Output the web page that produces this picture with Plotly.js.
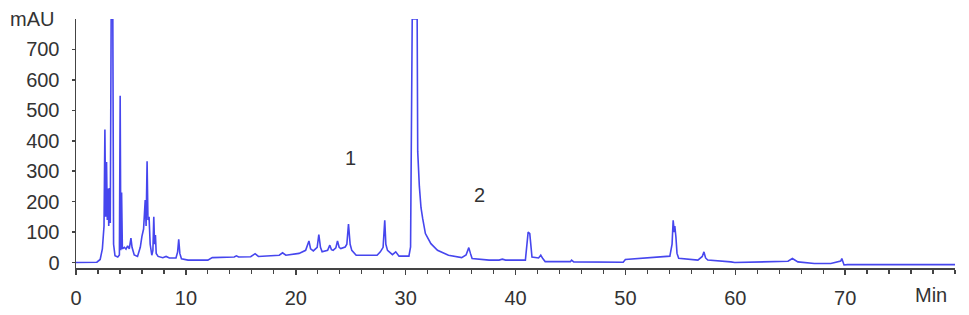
<!DOCTYPE html>
<html>
<head>
<meta charset="utf-8">
<script src="https://cdn.plot.ly/plotly-3.0.1.min.js"></script>
<style>
html,body{margin:0;padding:0;background:#fff;}
#chart{width:969px;height:315px;}
</style>
</head>
<body>
<div id="chart"></div>
<script>
// Retention time (min)
var retentionTime = [
  0, 1.0, 1.9, 2.2, 2.4, 2.55, 2.63, 2.7, 2.78, 2.85, 2.92, 2.98, 3.05, 3.12, 3.2, 3.35, 3.42, 3.55,
  3.8, 3.95, 4.02, 4.08, 4.15, 4.22, 4.4, 4.55, 4.7, 4.85, 5.0, 5.1, 5.3, 5.6, 5.85, 6.0, 6.15, 6.3,
  6.38, 6.47, 6.55, 6.65, 6.75, 6.9, 7.0, 7.08, 7.15, 7.23, 7.3, 7.47, 7.9, 8.2, 8.5, 9.1, 9.25, 9.35,
  9.45, 9.6, 10.2, 12.0, 12.4, 14.4, 14.6, 14.8, 15.9, 16.3, 16.6, 18.5, 18.8, 19.1, 20.3, 20.9, 21.2,
  21.35, 21.6, 21.95, 22.1, 22.25, 22.4, 22.9, 23.1, 23.25, 23.4, 23.65, 23.8, 23.95, 24.1, 24.5, 24.65,
  24.8, 24.95, 25.1, 25.5, 27.4, 27.7, 27.95, 28.1, 28.2, 28.35, 28.8, 29.1, 29.4, 30.3, 30.45, 30.6,
  31.05, 31.1, 31.25, 31.4, 31.55, 31.8, 32.3, 32.9, 33.9, 35.1, 35.5, 35.75, 35.9, 36.05, 37.6, 38.5,
  38.8, 39.1, 40.9, 41.05, 41.15, 41.3, 41.4, 41.5, 42.1, 42.3, 42.5, 42.7, 45.0, 45.1, 45.3, 49.8,
  50.0, 51.2, 52.7, 54.05, 54.25, 54.35, 54.45, 54.5, 54.6, 54.7, 54.85, 56.6, 57.0, 57.15, 57.3, 57.5,
  59.6, 59.95, 64.8, 65.2, 65.7, 67.2, 68.7, 69.6, 69.7, 69.8, 69.9, 70.2, 80
];
// Absorbance (mAU)
var absorbance = [
  0, 0, 1, 10, 45, 120, 437, 150, 330, 140, 243, 120, 245, 130, 800, 800, 60, 22,
  18, 25, 548, 40, 230, 45, 50, 44, 55, 45, 80, 50, 25, 20, 50, 86, 110, 205,
  120, 333, 140, 150, 60, 24, 40, 150, 60, 90, 30, 20, 16, 20, 15, 15, 35, 76,
  30, 12, 8, 8, 16, 18, 22, 18, 19, 29, 20, 24, 32, 24, 30, 40, 71,
  45, 38, 50, 92, 50, 35, 40, 57, 42, 40, 48, 71, 50, 46, 51, 60,
  126, 60, 40, 24, 24, 35, 50, 139, 60, 40, 26, 35, 21, 21, 51, 800,
  800, 365, 250, 180, 145, 95, 62, 40, 24, 16, 25, 49, 30, 13, 8, 8,
  11, 8, 8, 60, 100, 95, 50, 18, 15, 24, 12, 3, 3, 8, 2, 1,
  10, 13, 16, 21, 60, 139, 100, 120, 84, 30, 14, 8, 20, 35, 15, 8,
  2, 0, 4, 13, 2, -3, -3, 5, 13, 2, -8, -7, -7
];
var xTickVals = [0, 10, 20, 30, 40, 50, 60, 70];
var xTickText = ['0', '10', '20', '30', '40', '50', '60', '70'];
var yTickVals = [0, 100, 200, 300, 400, 500, 600, 700];
var yTickText = ['0', '100', '200', '300', '400', '500', '600', '700'];
var peakLabels = ['1', '2'];
var peakLabelX = [25.0, 36.7];
var peakLabelY = [343, 221];

var fontFam = 'Liberation Sans, Arial, Helvetica, sans-serif';
var textColor = '#333333';
var axisColor = '#444444';

var annotations = peakLabels.map(function (t, i) {
  return {text: t, x: peakLabelX[i], y: peakLabelY[i], xref: 'x', yref: 'y',
          showarrow: false, font: {family: fontFam, size: 20, color: textColor}};
});
annotations.push({text: 'mAU', xref: 'paper', yref: 'y', x: -0.0228, y: 800,
  xanchor: 'right', yanchor: 'middle', showarrow: false,
  font: {family: fontFam, size: 20, color: textColor}});
annotations.push({text: 'Min', xref: 'x', yref: 'paper', x: 77.8, y: -0.108,
  xanchor: 'center', yanchor: 'middle', showarrow: false,
  font: {family: fontFam, size: 20, color: textColor}});

var trace = {
  x: retentionTime, y: absorbance, type: 'scatter', mode: 'lines',
  line: {color: '#4646ee', width: 1.6}, hoverinfo: 'skip'
};

var layout = {
  width: 969, height: 315,
  margin: {l: 76, r: 14, t: 19, b: 47},
  paper_bgcolor: '#ffffff', plot_bgcolor: '#ffffff',
  showlegend: false,
  font: {family: fontFam, size: 20, color: textColor},
  xaxis: {
    range: [0, 80], tickmode: 'array', tickvals: xTickVals, ticktext: xTickText,
    showgrid: false, zeroline: false, showline: true, linecolor: axisColor, linewidth: 1.5,
    ticks: 'outside', ticklen: 5, tickwidth: 1.5, tickcolor: axisColor,
    minor: {dtick: 2, tick0: 0, ticks: 'outside', ticklen: 4, tickwidth: 1.2, tickcolor: axisColor, showgrid: false},
    tickfont: {family: fontFam, size: 20, color: textColor},
    ticklabelstandoff: 6
  },
  yaxis: {
    range: [-18, 800], tickmode: 'array', tickvals: yTickVals, ticktext: yTickText,
    showgrid: false, zeroline: false, showline: true, linecolor: axisColor, linewidth: 1.5,
    ticks: 'outside', ticklen: 3, tickwidth: 1.5, tickcolor: axisColor,
    tickfont: {family: fontFam, size: 20, color: textColor},
    ticklabelstandoff: 8
  },
  annotations: annotations
};

Plotly.newPlot('chart', [trace], layout, {staticPlot: true, displayModeBar: false});
</script>
</body>
</html>
